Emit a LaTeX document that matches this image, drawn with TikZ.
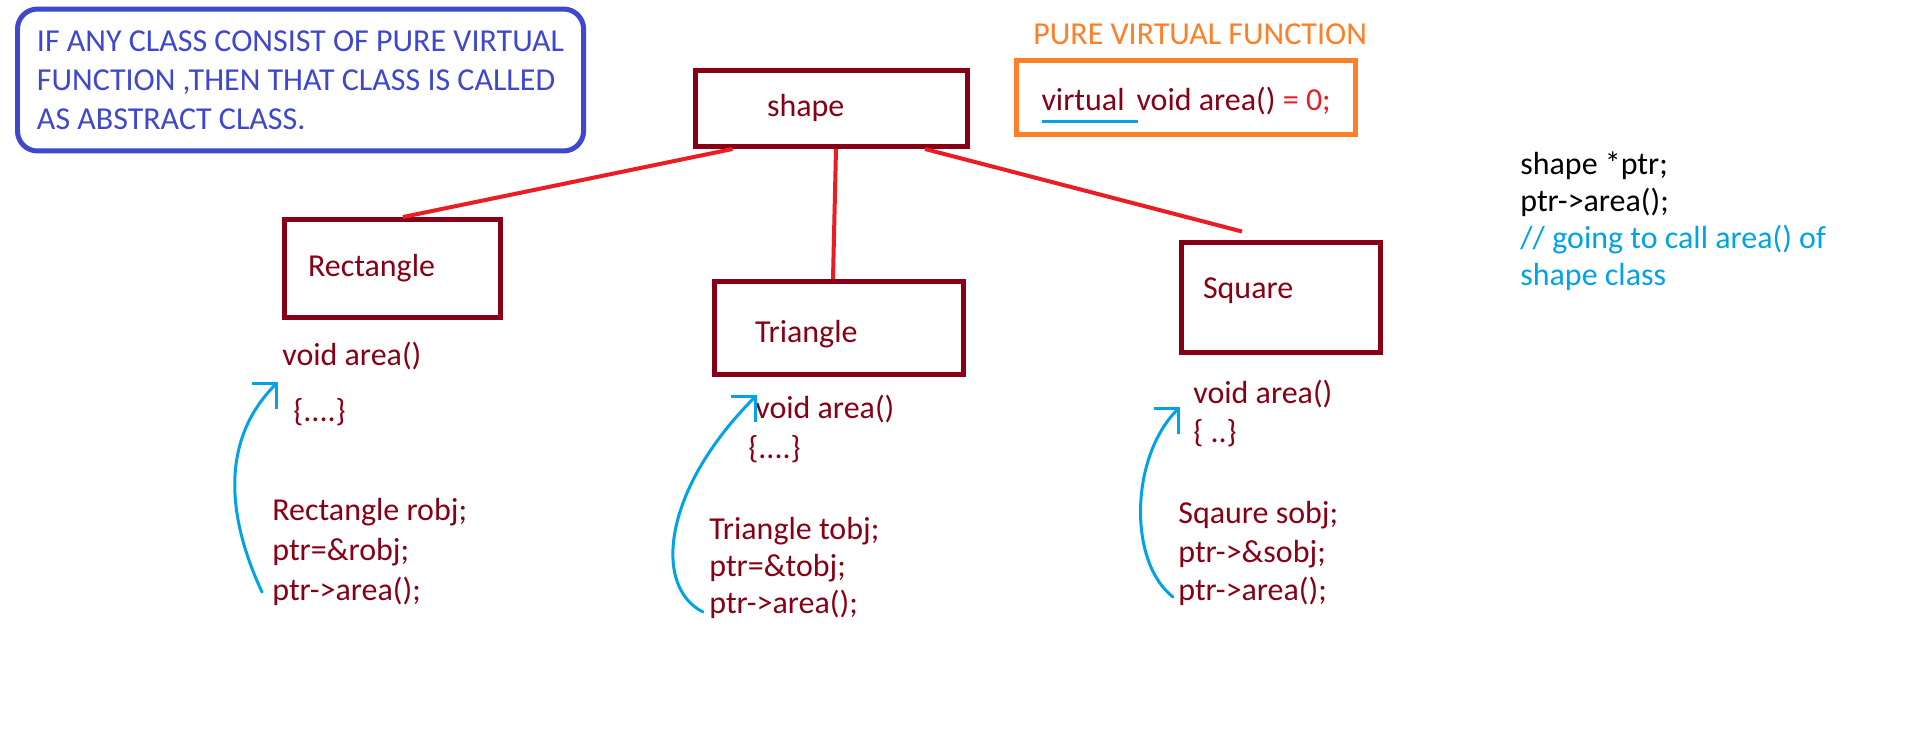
\documentclass[tikz,border=0pt]{standalone}
\usepackage{fontspec}
\setmainfont{Carlito}
\usetikzlibrary{arrows.meta,positioning}
\definecolor{ClassRed}{RGB}{136,0,21}
\definecolor{LinkRed}{RGB}{237,28,36}
\definecolor{CallBlue}{RGB}{0,162,232}
\definecolor{NoteBlue}{RGB}{63,72,204}
\definecolor{NoteOrange}{RGB}{255,127,39}
\tikzset{
  classbox/.style={draw=ClassRed,line width=0.1cm,text=ClassRed,align=left,
    inner ysep=0pt,text height=0.44cm,text depth=0.12cm},
  code/.style={text=ClassRed,inner sep=0pt,anchor=base west,
    text height=0.58cm,text depth=0.22cm},
  plain/.style={inner sep=0pt,anchor=base west,text height=0.58cm,text depth=0.22cm},
  link/.style={LinkRed,line width=0.08cm},
  callarrow/.style={-{Straight Barb[angle=90:0.5cm]},CallBlue,line width=0.06cm,
    line cap=round,line join=round}
}

\begin{document}
\begin{tikzpicture}[x=0.02cm,y=-0.02cm,font=\fontsize{18.2}{22.8}\selectfont]
  \path[use as bounding box,fill=white] (0,0) rectangle (1914,734);

  % note on the left
  \node[draw=NoteBlue,line width=0.1cm,rounded corners=0.4cm,text=NoteBlue,
    align=left,inner xsep=0.39cm,minimum height=2.84cm,anchor=west,
    font=\fontsize{18.2}{22.2}\selectfont] (note) at (15,80)
    {IF ANY CLASS CONSIST OF PURE VIRTUAL\\FUNCTION ,THEN THAT CLASS IS CALLED\\AS ABSTRACT CLASS.};

  % pure virtual function
  \node[plain,text=NoteOrange] (pvftitle) at (1033,44) {PURE VIRTUAL FUNCTION};
  \node[draw=NoteOrange,line width=0.1cm,text=ClassRed,inner xsep=0.5cm,
    minimum height=1.5cm,text height=0.58cm,text depth=0.08cm,anchor=west] (pvf) at (1014,97.5)
    {\makebox[0pt][l]{\textcolor{CallBlue}{\rule[-0.27cm]{1.94cm}{0.06cm}}}virtual\hspace{0.24cm}void area() \textcolor{LinkRed}{= 0;}};

  % class boxes
  \node[classbox,minimum height=1.52cm,inner xsep=1.43cm,text width=2.58cm] (shape) at (831.5,108.5) {shape};
  \node[classbox,minimum height=1.96cm,inner xsep=0.47cm,text width=3.38cm] (rect) at (392.5,268.5) {Rectangle};
  \node[classbox,minimum height=1.86cm,inner xsep=0.81cm,text width=3.36cm,text height=0.68cm] (tri) at (839,328) {Triangle};
  \node[classbox,minimum height=2.2cm,inner xsep=0.43cm,text width=3.12cm,text depth=0.42cm] (square) at (1281,297.5) {Square};

  \draw[link] ([xshift=-1.98cm]shape.south) -- ([xshift=0.21cm]rect.north);
  \draw[link] ([xshift=0.09cm]shape.south) -- ([xshift=-0.12cm]tri.north);
  \draw[link] ([xshift=1.87cm]shape.south) -- ([xshift=-0.78cm,yshift=0.17cm]square.north);

  % rectangle code
  \node[code] (rvoid) at (282,365) {void area()};
  \node[code] (rbody) at (293,421) {\{....\}};
  \node[code] (robj) at (272,520) {Rectangle robj;};
  \node[code] (rptr) at (272,560) {ptr=\&robj;};
  \node[code] (rcall) at (272,600) {ptr->area();};

  % triangle code
  \node[code] (tvoid) at (755,418) {void area()};
  \node[code] (tbody) at (748,458) {\{....\}};
  \node[code] (tobj) at (709,539) {Triangle tobj;};
  \node[code] (tptr) at (709,576) {ptr=\&tobj;};
  \node[code] (tcall) at (709,613) {ptr->area();};

  % square code
  \node[code] (svoid) at (1193,403) {void area()};
  \node[code] (sbody) at (1193,442) {\{ ..\}};
  \node[code] (sobj) at (1178,523) {Sqaure sobj;};
  \node[code] (sptr) at (1178,562) {ptr->\&sobj;};
  \node[code] (scall) at (1178,600) {ptr->area();};

  % calls through the pointer
  \draw[callarrow] ([shift={(-10,-8)}]rcall.base west) .. controls +(-35,-75) and +(-58,58) .. ([shift={(-4,17)}]rvoid.base west);
  \draw[callarrow] ([shift={(-6,-1)}]tcall.base west) .. controls +(-50,-25) and +(-95,95) .. ([shift={(2,-23)}]tvoid.base west);
  \draw[callarrow] ([shift={(-5,-3)}]scall.base west) .. controls +(-45,-35) and +(-50,50) .. ([shift={(-13,4)}]svoid.base west);

  % base pointer
  \node[plain] (ptrdecl) at (1520,174) {shape *ptr;};
  \node[plain] (ptrcall) at (1520,211) {ptr->area();};
  \node[plain,text=CallBlue] (cmt1) at (1520,248) {// going to call area() of};
  \node[plain,text=CallBlue] (cmt2) at (1520,285) {shape class};
\end{tikzpicture}
\end{document}
